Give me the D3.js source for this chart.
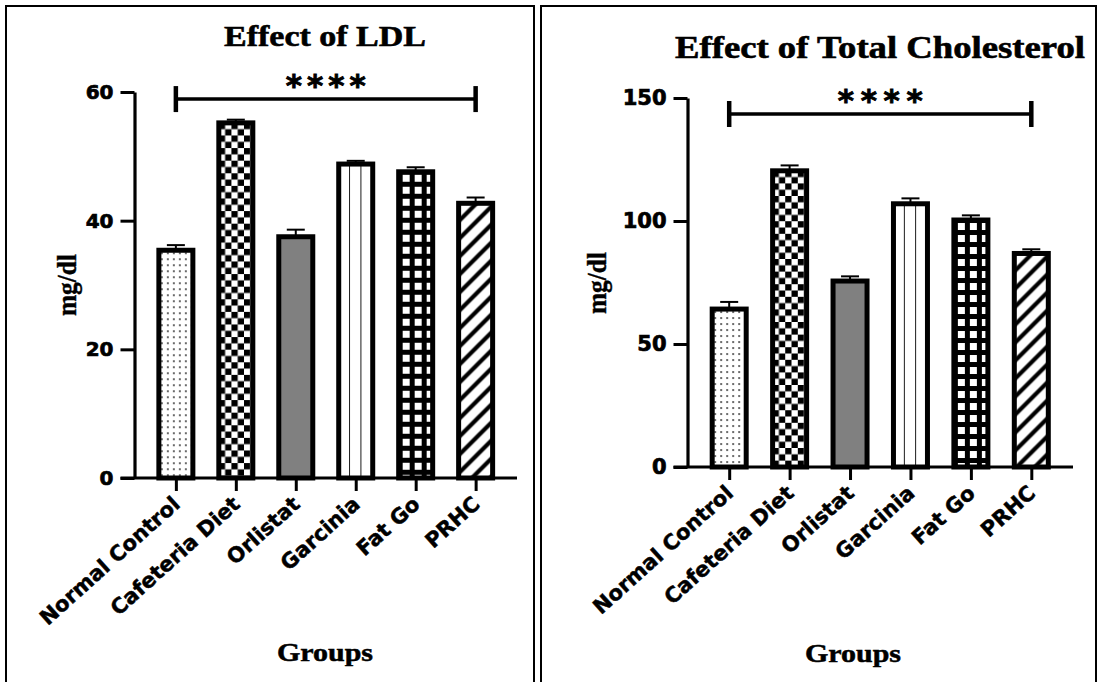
<!DOCTYPE html>
<html>
<head>
<meta charset="utf-8">
<script src="https://cdn.jsdelivr.net/npm/d3@7"></script>
<style>
  html, body { margin: 0; padding: 0; background: #fff; }
  svg { display: block; }
</style>
</head>
<body>
<svg id="fig" width="1102" height="682"></svg>
<script>
// Treatment groups shared by both panels
const groups = ["Normal Control", "Cafeteria Diet", "Orlistat", "Garcinia", "Fat Go", "PRHC"];

// LDL (mg/dl): group means and SEM
const ldlMean = [35.4, 55.2, 37.5, 48.8, 47.6, 42.7];
const ldlSem  = [0.8, 0.5, 1.1, 0.5, 0.7, 0.9];
const ldlTicks = [0, 20, 40, 60];

// Total cholesterol (mg/dl): group means and SEM
const tcMean = [64.2, 120.4, 75.6, 107.0, 100.4, 86.8];
const tcSem  = [2.9, 2.2, 1.9, 2.2, 1.9, 1.7];
const tcTicks = [0, 50, 100, 150];

// Significance bracket label
const sigLabel = "****";

const svg = d3.select("#fig");
const defs = svg.append("defs");

const SANS = "'DejaVu Sans', sans-serif";
const SERIF = "'Liberation Serif', 'Times New Roman', serif";

// heavier strokes on text to get the poster-style bold weight
function heavy(sel, w) {
  return sel.attr("stroke", "#000").attr("stroke-width", w).attr("paint-order", "stroke");
}

// Fill styles, one per group, built as SVG patterns anchored to each bar
function makePattern(id, kind, x0, y0) {
  const p = defs.append("pattern").attr("id", id).attr("patternUnits", "userSpaceOnUse");
  if (kind === 0) {            // sparse dots
    p.attr("width", 6).attr("height", 6).attr("x", x0).attr("y", y0);
    p.append("rect").attr("width", 6).attr("height", 6).attr("fill", "#fff");
    p.append("circle").attr("cx", 3).attr("cy", 3).attr("r", 0.9).attr("fill", "#222");
  } else if (kind === 1) {     // checkerboard
    p.attr("width", 12.6).attr("height", 12.6).attr("x", x0).attr("y", y0);
    p.append("rect").attr("width", 12.6).attr("height", 12.6).attr("fill", "#fff");
    p.append("rect").attr("width", 6.3).attr("height", 6.3).attr("fill", "#000");
    p.append("rect").attr("x", 6.3).attr("y", 6.3).attr("width", 6.3).attr("height", 6.3).attr("fill", "#000");
  } else if (kind === 3) {     // vertical rules dividing the bar in three
    p.attr("width", 34 / 3).attr("height", 10).attr("x", x0).attr("y", 0);
    p.append("rect").attr("width", 34 / 3).attr("height", 10).attr("fill", "#fff");
    p.append("rect").attr("x", 34 / 3 - 0.9).attr("width", 1.8).attr("height", 10).attr("fill", "#000");
  } else if (kind === 4) {     // white squares on black grid
    p.attr("width", 12).attr("height", 12).attr("x", x0).attr("y", y0);
    p.append("rect").attr("width", 12).attr("height", 12).attr("fill", "#000");
    p.append("rect").attr("x", 4).attr("y", 3).attr("width", 7).attr("height", 7).attr("fill", "#fff");
  } else if (kind === 5) {     // diagonal hatch
    p.attr("width", 18).attr("height", 18).attr("x", x0).attr("y", y0);
    p.append("rect").attr("width", 18).attr("height", 18).attr("fill", "#fff");
    p.append("path").attr("d", "M-4.5,4.5L4.5,-4.5M0,18L18,0M13.5,22.5L22.5,13.5")
      .attr("stroke", "#000").attr("stroke-width", 4.2);
  }
  return "url(#" + id + ")";
}

function drawPanel(cfg) {
  const g = svg.append("g");

  // panel frame
  g.append("rect")
    .attr("x", cfg.frame[0]).attr("y", cfg.frame[1])
    .attr("width", cfg.frame[2]).attr("height", cfg.frame[3])
    .attr("fill", "none").attr("stroke", "#000").attr("stroke-width", 2);

  const y = d3.scaleLinear().domain([0, cfg.ticks[cfg.ticks.length - 1]]).range([cfg.y0, cfg.yTop]);
  const x = d3.scalePoint().domain(groups).range([cfg.axisX, cfg.xEnd]).padding(0.69);

  // y axis
  const ya = g.append("g").attr("transform", `translate(${cfg.axisX},0)`)
    .call(d3.axisLeft(y).tickValues(cfg.ticks).tickSize(14).tickSizeOuter(0).tickPadding(7));
  ya.select(".domain").attr("stroke-width", 3.2);
  ya.selectAll(".tick line").attr("stroke-width", 3);
  heavy(ya.selectAll(".tick text")
    .attr("font-family", SANS).attr("font-weight", "bold")
    .attr("font-size", cfg.tickFont).attr("fill", "#000"), 0.7);

  // x axis
  const xa = g.append("g").attr("transform", `translate(0,${cfg.y0})`)
    .call(d3.axisBottom(x).tickSize(13).tickSizeOuter(0));
  xa.select(".domain").attr("stroke-width", 3.2)
    .attr("d", `M${cfg.axisX - 14},0H${cfg.xEnd}`);
  xa.selectAll(".tick line").attr("stroke-width", 3);
  heavy(xa.selectAll(".tick text")
    .attr("font-family", SANS).attr("font-weight", "bold")
    .attr("font-size", cfg.catFont).attr("fill", "#000")
    .attr("x", 0).attr("y", 0).attr("dy", 0)
    .attr("text-anchor", "end")
    .attr("transform", `translate(${cfg.catDx},${cfg.catDy}) rotate(${cfg.catAngle})`), 0.5);

  // bars
  const bw = 34;
  groups.forEach((grp, i) => {
    const cx = x(grp);
    const top = y(cfg.mean[i]);
    let fill;
    if (i === 2) fill = "#808080";
    else fill = makePattern(`${cfg.id}-fill-${i}`, i, cx - bw / 2, top);
    g.append("rect")
      .attr("x", cx - bw / 2).attr("y", top)
      .attr("width", bw).attr("height", cfg.y0 - top)
      .attr("fill", fill).attr("stroke", "#000").attr("stroke-width", 5);
    // upper error whisker
    const et = y(cfg.mean[i] + cfg.sem[i]);
    g.append("line").attr("x1", cx).attr("x2", cx).attr("y1", top).attr("y2", et)
      .attr("stroke", "#000").attr("stroke-width", 2);
    g.append("line").attr("x1", cx - 9).attr("x2", cx + 9).attr("y1", et).attr("y2", et)
      .attr("stroke", "#000").attr("stroke-width", 2);
  });

  // significance bracket
  const bx1 = x(groups[0]), bx2 = x(groups[groups.length - 1]), by = y(cfg.bracket);
  g.append("line").attr("x1", bx1).attr("x2", bx2).attr("y1", by).attr("y2", by)
    .attr("stroke", "#000").attr("stroke-width", 3.5);
  [bx1, bx2].forEach(bx => {
    g.append("line").attr("x1", bx).attr("x2", bx).attr("y1", by - 13).attr("y2", by + 13)
      .attr("stroke", "#000").attr("stroke-width", 4.5);
  });
  heavy(g.append("text")
    .attr("x", (bx1 + bx2) / 2).attr("y", by + cfg.starDy)
    .attr("text-anchor", "middle")
    .attr("font-family", SANS).attr("font-weight", "bold").attr("font-size", 31)
    .attr("textLength", cfg.starLen).attr("lengthAdjust", "spacing")
    .text(sigLabel), 0.9);

  // titles
  heavy(g.append("text")
    .attr("x", cfg.title.x).attr("y", cfg.title.y)
    .attr("text-anchor", "middle")
    .attr("font-family", SERIF).attr("font-weight", "bold").attr("font-size", cfg.title.size)
    .attr("textLength", cfg.title.len).attr("lengthAdjust", "spacingAndGlyphs")
    .text(cfg.title.text), 0.6);

  heavy(g.append("text")
    .attr("transform", `translate(${cfg.yTitle.x},${cfg.yTitle.y}) rotate(-90)`)
    .attr("text-anchor", "middle")
    .attr("font-family", SERIF).attr("font-weight", "bold").attr("font-size", 27)
    .attr("textLength", 62).attr("lengthAdjust", "spacingAndGlyphs")
    .text("mg/dl"), 0.4);

  heavy(g.append("text")
    .attr("x", cfg.xTitle.x).attr("y", cfg.xTitle.y)
    .attr("text-anchor", "middle")
    .attr("font-family", SERIF).attr("font-weight", "bold").attr("font-size", 26)
    .attr("textLength", 96).attr("lengthAdjust", "spacingAndGlyphs")
    .text("Groups"), 0.5);

  svg.selectAll(".domain, .tick line").attr("stroke", "#000");
}

drawPanel({
  id: "ldl", mean: ldlMean, sem: ldlSem, ticks: ldlTicks,
  frame: [6, 6, 528, 690],
  axisX: 134.5, xEnd: 517, y0: 478, yTop: 92,
  tickFont: 20, catFont: 21, catDx: 5, catDy: 28, catAngle: -42,
  bracket: 58.9, starDy: -3, starLen: 80,
  title: { text: "Effect of LDL", x: 325, y: 46, size: 30, len: 202 },
  yTitle: { x: 76, y: 285 },
  xTitle: { x: 325, y: 661 }
});

drawPanel({
  id: "tc", mean: tcMean, sem: tcSem, ticks: tcTicks,
  frame: [541, 6, 555, 690],
  axisX: 687.5, xEnd: 1073, y0: 467, yTop: 98,
  tickFont: 21, catFont: 21, catDx: 5, catDy: 28, catAngle: -42,
  bracket: 143.5, starDy: -3, starLen: 85,
  title: { text: "Effect of Total Cholesterol", x: 880, y: 58, size: 31, len: 410 },
  yTitle: { x: 606, y: 283 },
  xTitle: { x: 853, y: 662 }
});
</script>
</body>
</html>
